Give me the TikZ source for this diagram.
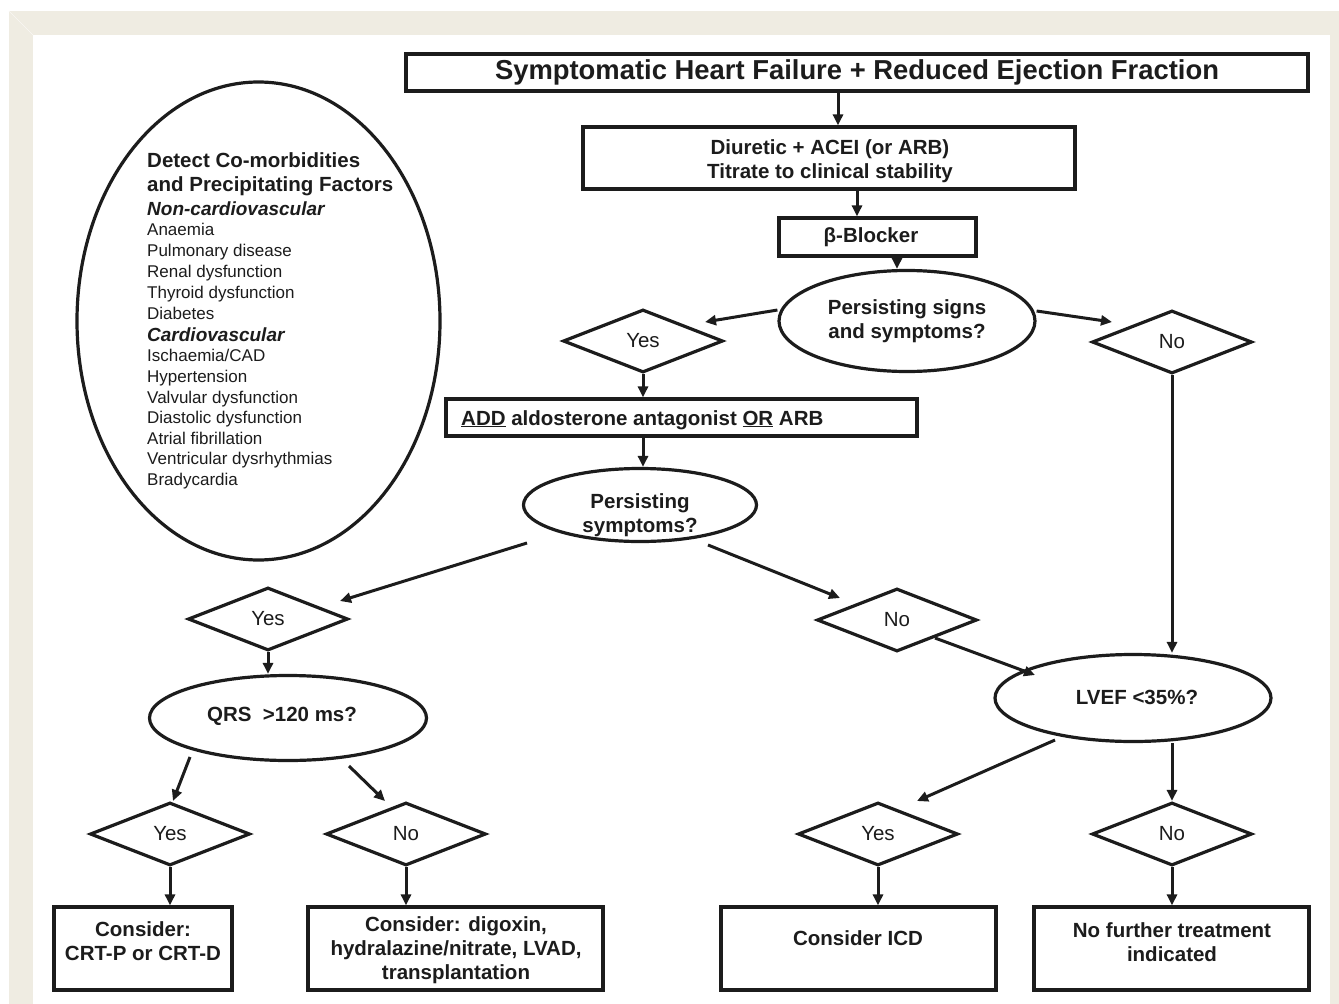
\documentclass[tikz,border=0pt]{standalone}
\usepackage{fontspec}
\setmainfont{Liberation Sans}
\usetikzlibrary{shapes.geometric,arrows.meta,calc}
\definecolor{framec}{RGB}{239,236,226}
\definecolor{ink}{RGB}{28,28,28}
\newcommand\fsz[2]{\fontsize{#1}{#2}\selectfont}
\begin{document}
\begin{tikzpicture}[x=1pt,y=-1pt,
  every node/.style={text=ink},
  box/.style={draw=ink,line width=3.2pt,rectangle,inner sep=0pt,font=\fsz{20.5}{24}\bfseries,align=center},
  oval/.style={draw=ink,line width=3.2pt,ellipse,inner sep=0pt,font=\fsz{20.5}{24}\bfseries,align=center},
  dia/.style={draw=ink,line width=3.2pt,diamond,inner sep=0pt,minimum width=160pt,minimum height=63pt,font=\fsz{20.5}{24}},
  txt/.style={inner sep=0pt,font=\fsz{20.5}{24}\bfseries,align=center},
  lst/.style={anchor=base west,inner sep=0pt,font=\fsz{17}{20}},
  lsth/.style={anchor=base west,inner sep=0pt,font=\fsz{20.5}{24}\bfseries},
  lsti/.style={anchor=base west,inner sep=0pt,font=\fsz{19}{22}\bfseries\itshape},
  arr/.style={draw=ink,line width=3pt,-{Triangle[length=11pt,width=10pt]}}
]
% background frame
\fill[white] (0,0) rectangle (1339,1004);
\fill[framec] (9,11) rectangle (1339,1004);
\fill[white] (33,35) rectangle (1330,1004);
\draw[white!60!framec,line width=0.6pt] (9,11) -- (33,35);
\useasboundingbox (0,0) rectangle (1339,1004);

% left ellipse with co-morbidities
\node[draw=ink,line width=3.2pt,ellipse,inner sep=0pt,minimum width=363pt,minimum height=478pt] (cm) at (258.5,321) {};
\node[lsth] (cm1) at (147,167) {Detect Co-morbidities};
\node[lsth] (cm2) at (147,191) {and Precipitating Factors};
\node[lsti] (cm3) at (147,215) {Non-cardiovascular};
\node[lst] (cm4) at (147,235) {Anaemia};
\node[lst] (cm5) at (147,256) {Pulmonary disease};
\node[lst] (cm6) at (147,277) {Renal dysfunction};
\node[lst] (cm7) at (147,298) {Thyroid dysfunction};
\node[lst] (cm8) at (147,319) {Diabetes};
\node[lsti] (cm9) at (147,341) {Cardiovascular};
\node[lst] (cm10) at (147,361) {Ischaemia/CAD};
\node[lst] (cm11) at (147,382) {Hypertension};
\node[lst] (cm12) at (147,403) {Valvular dysfunction};
\node[lst] (cm13) at (147,423) {Diastolic dysfunction};
\node[lst] (cm14) at (147,444) {Atrial fibrillation};
\node[lst] (cm15) at (147,464) {Ventricular dysrhythmias};
\node[lst] (cm16) at (147,485) {Bradycardia};

% main flow
\node[box,minimum width=902pt,minimum height=37pt,font=\fsz{27.4}{30}\bfseries] (title) at (857,72.5) {Symptomatic Heart Failure + Reduced Ejection Fraction};
\node[box,minimum width=492pt,minimum height=62pt] (diur) at (829,158) {};
\node[txt] (diurt) at (830,161) {Diuretic + ACEI (or ARB)\\Titrate to clinical stability};
\node[box,minimum width=197pt,minimum height=38pt] (beta) at (877.5,237) {};
\node[txt] (betat) at (871,237) {β-Blocker};
\node[oval,minimum width=256pt,minimum height=101pt] (q1) at (907,321) {Persisting signs\\and symptoms?};
\node[dia] (y1) at (643,341) {Yes};
\node[dia] (n1) at (1172,342) {No};
\node[box,minimum width=471pt,minimum height=37pt] (add) at (681.5,417.5) {};
\node[anchor=base west,inner sep=0pt,font=\fsz{20.5}{24}\bfseries] (addt) at (461,425) {\underline{ADD} aldosterone antagonist \underline{OR} ARB};
\node[oval,minimum width=233pt,minimum height=73pt] (q2) at (640,505) {};
\node[txt] (q2t) at (640,515) {Persisting\\symptoms?};
\node[dia] (y2) at (268,619) {Yes};
\node[dia] (n2) at (897,620) {No};
\node[oval,minimum width=277pt,minimum height=85pt] (qrs) at (288,718) {};
\node[txt] (qrst) at (282,716) {QRS\ \ >120 ms?};
\node[oval,minimum width=276pt,minimum height=87pt] (lvef) at (1133,698) {};
\node[txt] (lveft) at (1137,697) {LVEF <35\%?};
\node[dia] (y3) at (170,834) {Yes};
\node[dia] (n3) at (406,834) {No};
\node[dia] (y4) at (878,834) {Yes};
\node[dia] (n4) at (1172,834) {No};

% outcome boxes
\node[box,minimum width=178pt,minimum height=83pt] (crt) at (143,948.5) {};
\node[txt] (crtt) at (143,941) {Consider:\\CRT-P or CRT-D};
\node[box,minimum width=295pt,minimum height=83pt] (misc) at (455.5,948.5) {};
\node[txt] (misct) at (456,950) {Consider: digoxin,\\hydralazine/nitrate, LVAD,\\transplantation};
\node[box,minimum width=275pt,minimum height=83pt] (icd) at (858.5,948.5) {};
\node[txt] (icdt) at (858,938) {Consider ICD};
\node[box,minimum width=275pt,minimum height=83pt] (nft) at (1171.5,948.5) {};
\node[txt] (nftt) at (1172,942) {No further treatment\\indicated};

% connectors
\draw[arr] ([xshift=-19pt]title.south) -- ([xshift=9pt]diur.north);
\draw[arr] ([xshift=28pt]diur.south) -- ([xshift=-20.5pt]beta.north);
\draw[arr] ([xshift=19.5pt]beta.south) -- ([xshift=-10pt]q1.north);
\draw[arr] ([yshift=11pt]q1.west) -- ([xshift=62pt,yshift=19pt]y1.center);
\draw[arr] ([yshift=10pt]q1.east) -- ([xshift=-60pt,yshift=20pt]n1.center);
\draw[arr] (y1.south) -- (y1.south |- add.north);
\draw[arr] (y1.south |- add.south) -- (y1.south |- q2.north);
\draw[arr] ([xshift=-113pt,yshift=-38pt]q2.center) -- ([xshift=72pt,yshift=18pt]y2.center);
\draw[arr] ([xshift=68pt,yshift=-40pt]q2.center) -- ([xshift=-57pt,yshift=22pt]n2.center);
\draw[arr] ([xshift=38pt,yshift=-18pt]n2.center) -- ([xshift=-98pt,yshift=23pt]lvef.center);
\draw[arr] (n1.south) -- (n1.south |- lvef.north);
\draw[arr] (y2.south) -- (y2.south |- qrs.north);
\draw[arr] ([xshift=-98pt,yshift=-39pt]qrs.center) -- ([xshift=3pt]y3.north);
\draw[arr] ([xshift=61pt,yshift=-48pt]qrs.center) -- ([xshift=-21pt,yshift=33pt]n3.center);
\draw[arr] ([xshift=-78pt,yshift=-42pt]lvef.center) -- ([xshift=39pt,yshift=33pt]y4.center);
\draw[arr] (n1.south |- lvef.south) -- (n4.north);
\draw[arr] (y3.south) -- (y3.south |- crt.north);
\draw[arr] (n3.south) -- (n3.south |- misc.north);
\draw[arr] (y4.south) -- (y4.south |- icd.north);
\draw[arr] (n4.south) -- (n4.south |- nft.north);
\end{tikzpicture}
\end{document}
